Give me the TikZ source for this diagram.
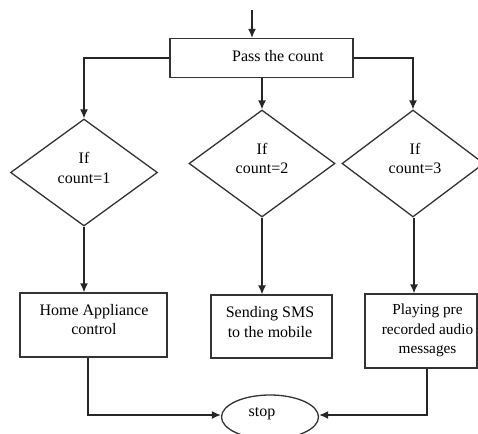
\documentclass[tikz,border=0pt]{standalone}
\usepackage{fontspec}
\setmainfont{Liberation Serif}
\usetikzlibrary{shapes.geometric,arrows.meta}
\begin{document}
\begin{tikzpicture}[x=1pt,y=-1pt,
  every node/.style={font=\fontsize{16}{19.5}\selectfont},
  box/.style={draw=black!80,line width=1.3pt,rectangle,inner sep=0pt},
  dia/.style={draw=black!80,line width=1.3pt,diamond,inner sep=0pt,aspect=1.4},
  term/.style={draw=black!80,line width=1.3pt,ellipse,inner sep=0pt},
  txt/.style={inner sep=0pt,align=center},
  arr/.style={draw=black!85,line width=1.3pt,-{Latex[length=9pt,width=8pt]}}]
\useasboundingbox (0,0) rectangle (478,433);
\fill[white] (0,0) rectangle (478,433);
\begin{scope}
\clip (0,0) rectangle (478,433);
% top box
\node[box,minimum width=183pt,minimum height=39pt] (pass) at (261.5,58) {};
\node[txt] (passt) at (278,56) {Pass the count};
% diamonds
\node[dia,minimum width=147pt,minimum height=107pt] (d1) at (84,172.5) {};
\node[txt] (d1t) at (84,168) {If\\count=1};
\node[dia,minimum width=146pt,minimum height=107pt] (d2) at (262,163.5) {};
\node[txt] (d2t) at (262,158.5) {If\\count=2};
\node[dia,minimum width=142pt,minimum height=107pt] (d3) at (413,163.5) {};
\node[txt] (d3t) at (415,158.5) {If\\count=3};
% boxes
\node[box,minimum width=147pt,minimum height=64pt] (b1) at (93.5,325) {};
\node[txt] (b1t) at (94,319.5) {Home Appliance\\control};
\node[box,minimum width=112pt,minimum height=74pt] (b3) at (421,331) {};
\node[txt,font=\fontsize{15.3}{19.5}\selectfont] (b3t) at (427.5,330.5) {Playing pre\\recorded audio\\messages};
\node[box,minimum width=121pt,minimum height=63pt] (b2) at (271.5,326.5) {};
\node[txt] (b2t) at (270,322) {Sending SMS\\to the mobile};
% stop
\node[term,minimum width=97pt,minimum height=44pt] (stop) at (270,417) {};
\node[txt] (stopt) at (262,414) {stop};
% connectors
\coordinate (start) at (252,10);
\draw[arr] (start) -- (start |- pass.north);
\draw[arr] (pass.west) -| (d1.north);
\draw[arr] (pass.south -| d2.north) -- (d2.north);
\draw[arr] (pass.east) -| (d3.north);
\draw[arr] (d1.south) -- (d1.south |- b1.north);
\draw[arr] (d2.south) -- (d2.south |- b2.north);
\draw[arr] ([xshift=1pt]d3.south) -- ([xshift=1pt]d3.south |- b3.north);
\draw[arr] ([xshift=-5.5pt]b1.south) |- ([yshift=2pt]stop.west);
\draw[arr] ([xshift=6pt]b3.south) |- ([yshift=2pt]stop.east);
\end{scope}
\end{tikzpicture}
\end{document}
